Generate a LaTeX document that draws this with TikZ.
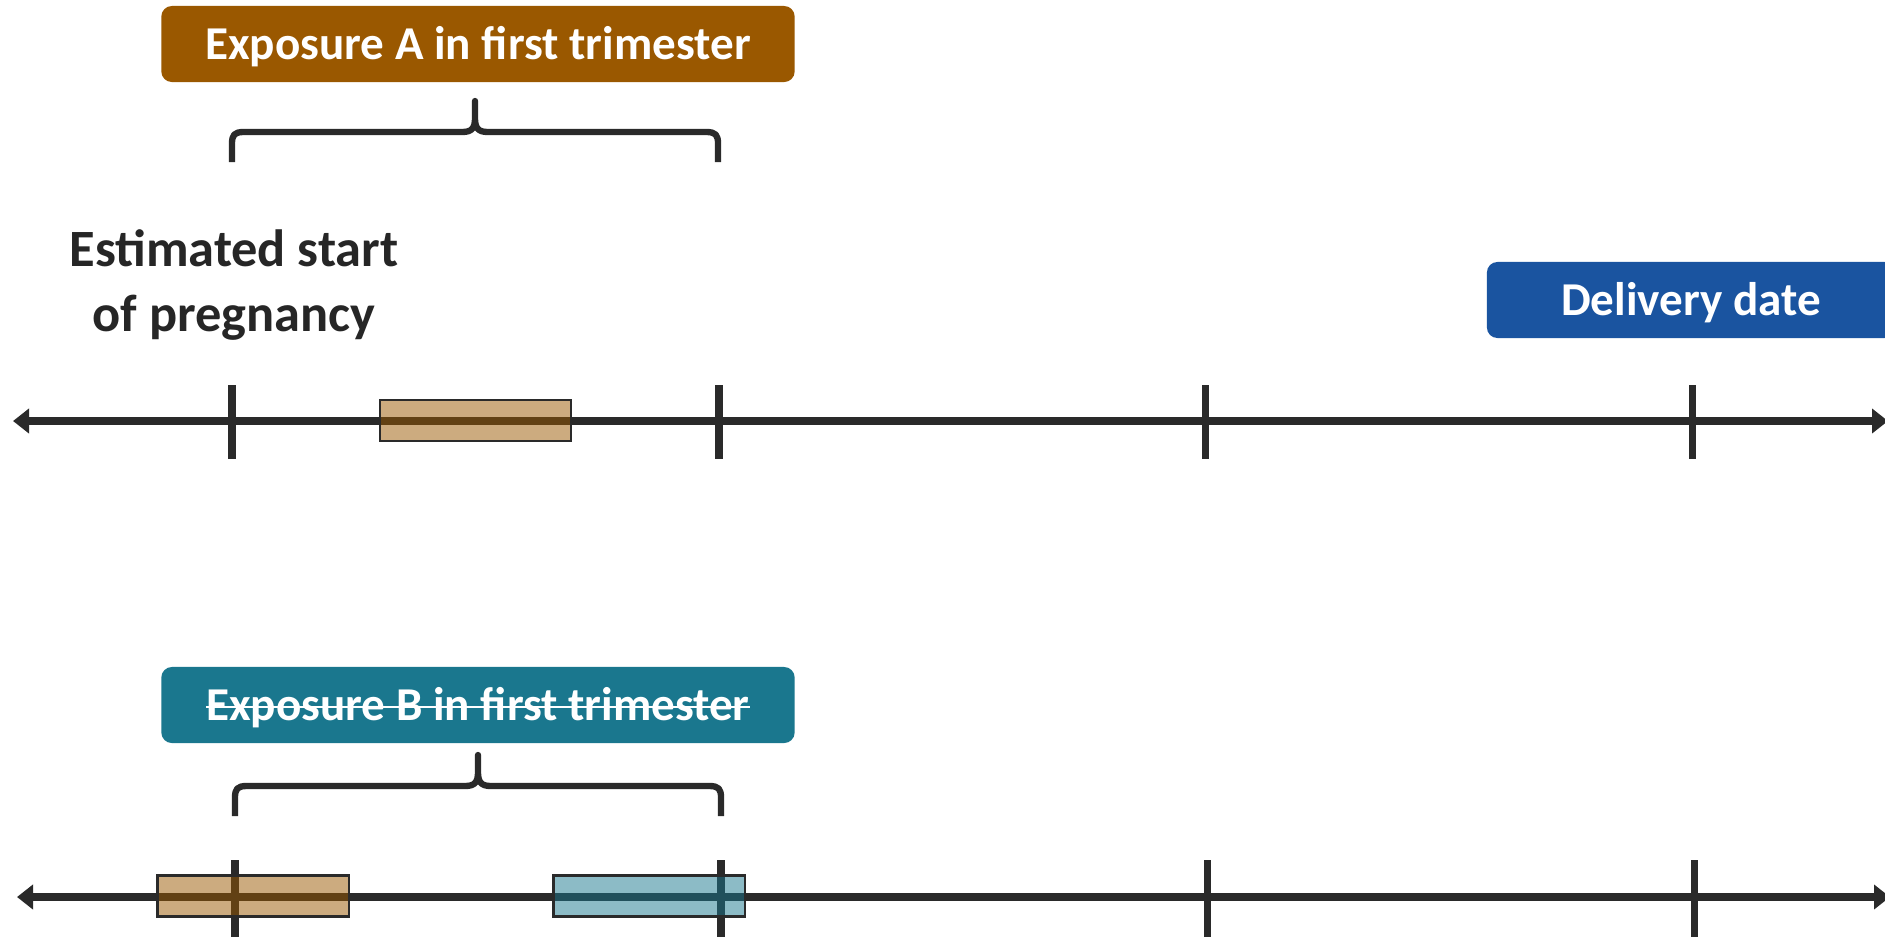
\documentclass[tikz,border=0pt]{standalone}
\usepackage{fontspec}
\setmainfont{Carlito}
\usepackage{tikz}
\usetikzlibrary{arrows.meta,positioning}
\definecolor{ExpoBrown}{RGB}{154,88,0}
\definecolor{ExpoTeal}{RGB}{26,119,142}
\definecolor{DelivBlue}{RGB}{26,84,160}
\definecolor{AxisGray}{RGB}{42,42,42}
\definecolor{TextGray}{RGB}{38,38,38}
\newsavebox\strkbox
\newcommand{\strikeout}[1]{\sbox\strkbox{#1}\rlap{\usebox\strkbox}\rule[0.55ex]{\wd\strkbox}{0.6pt}}

\begin{document}
\begin{tikzpicture}[x=0.01cm, y=-0.01cm,
        tag/.style={rounded corners=3pt, minimum height=0.76cm, inner sep=0pt, text height=11.5pt, text depth=2.7pt, text=white, font=\fontsize{13.4}{16}\selectfont\bfseries},
        expbar/.style={draw=AxisGray, line width=0.6pt, fill opacity=0.5, minimum width=1.91cm, minimum height=0.41cm, inner sep=0pt},
        axis/.style={{Triangle[length=1.6mm,width=2.4mm]}-{Triangle[length=1.6mm,width=2.4mm]}, line width=2.3pt, draw=AxisGray},
        tck/.style={line width=2pt, draw=AxisGray},
        brc/.style={line width=1.8pt, draw=AxisGray, line join=round}
      ]
        \useasboundingbox (0,0) rectangle (1885,936);
        % labels
        \node[tag, fill=ExpoBrown, minimum width=6.33cm] (lblA) at (478,44) {Exposure A in first trimester};
        \node[tag, fill=ExpoTeal, minimum width=6.33cm] (lblB) at (478,705) {\strikeout{Exposure B in first trimester}};
        \node[tag, fill=DelivBlue, minimum width=4.08cm] (deliv) at (1691,300) {Delivery date};
        \node[align=center, text=TextGray, font=\fontsize{14.9}{18.3}\selectfont\bfseries] (start) at (234,285) {Estimated start\\of pregnancy};
        % braces
        \foreach \bx/\by in {0/0, 3/654} {
          \draw[brc, shift={(\bx*0.01cm,-\by*0.01cm)}] (232,162) -- (232,144) .. controls (232,135) and (234,132) .. (244,132) -- (462,132)
            .. controls (472,132) and (475,128) .. (475,118) -- (475,101) -- (475,118)
            .. controls (475,128) and (478,132) .. (488,132) -- (706,132) .. controls (716,132) and (718,135) .. (718,144) -- (718,162);
        }
        % timelines
        \coordinate (a1w) at (13,421); \coordinate (a1e) at (1888,421);
        \coordinate (a2w) at (17,897); \coordinate (a2e) at (1890,897);
        \draw[axis] (a1w) -- (a1e);
        \draw[axis] (a2w) -- (a2e);
        \foreach \x in {232,719,1205,1692} {\draw[tck] (\x,385) -- (\x,459);}
        \foreach \x in {235,721,1207,1694} {\draw[tck] (\x,860) -- (\x,940);}
        % exposure bars
        \node[expbar, fill=ExpoBrown] (barA) at (475.5,420.5) {};
        \node[expbar, fill=ExpoBrown] (barB1) at (253,896) {};
        \node[expbar, fill=ExpoTeal] (barB2) at (649,896) {};
      \end{tikzpicture}
\end{document}
